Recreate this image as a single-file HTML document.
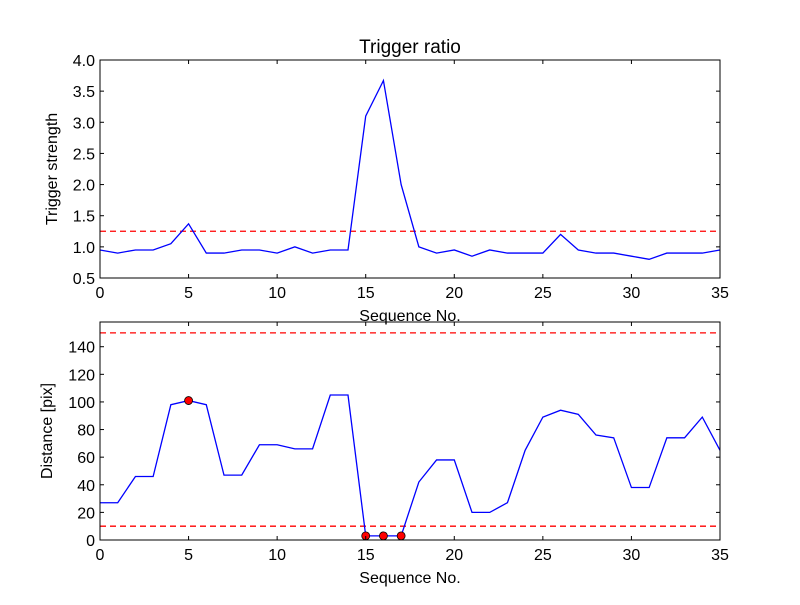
<!DOCTYPE html>
<html><head><meta charset="utf-8"><style>
body{margin:0;background:#fff;}
svg text{font-family:"Liberation Sans","DejaVu Sans",sans-serif;fill:#000;}
</style></head><body>
<svg id="chart" width="800" height="600" xmlns="http://www.w3.org/2000/svg"></svg>
<script>
const seq = Array.from({length:36},(_,i)=>i);
const triggerStrength = [0.95,0.9,0.95,0.95,1.05,1.37,0.9,0.9,0.95,0.95,0.9,1.0,0.9,0.95,0.95,3.1,3.67,2.0,1.0,0.9,0.95,0.85,0.95,0.9,0.9,0.9,1.2,0.95,0.9,0.9,0.85,0.8,0.9,0.9,0.9,0.95];
const triggerThreshold = [1.25];
const distance = [27,27,46,46,98,101,98,47,47,69,69,66,66,105,105,3,3,3,42,58,58,20,20,27,65,89,94,91,76,74,38,38,74,74,89,65];
const distThresholds = [150,10];
const flagged = [5,15,16,17];
const xTicks = [0,5,10,15,20,25,30,35];
const topYTicks = [0.5,1.0,1.5,2.0,2.5,3.0,3.5,4.0];
const botYTicks = [0,20,40,60,80,100,120,140];

const svg=document.getElementById('chart');
const NS='http://www.w3.org/2000/svg';
function mk(tag,attrs,parent){const e=document.createElementNS(NS,tag);for(const k in attrs)e.setAttribute(k,attrs[k]);(parent||svg).appendChild(e);return e;}
const L=100,R=720;
const xs=v=>L+(v-0)/(35-0)*(R-L);

function panel(name,top,bot,ymin,ymax,yticks,fmt,data,thr,ylabel,title,marks){
  const g=mk('g',{});
  
  
  const ys=v=>bot-(v-ymin)/(ymax-ymin)*(bot-top);
  thr.forEach(t=>{const l=mk('line',{x1:L,x2:R,y1:ys(t),y2:ys(t),stroke:'#ff0000','stroke-width':1.3,'stroke-dasharray':'6,4'},g);
    
    });
  const p=mk('polyline',{points:data.map((v,i)=>xs(seq[i])+','+ys(v)).join(' '),fill:'none',stroke:'#0000ff','stroke-width':1.3},g);
  
  
  marks.forEach(i=>{const c=mk('circle',{cx:xs(seq[i]),cy:ys(data[i]),r:4,fill:'#ff0000',stroke:'#000','stroke-width':0.8},g);
    
    });
  const f=mk('rect',{x:L,y:top,width:R-L,height:bot-top,fill:'none',stroke:'#000','stroke-width':1},g);
  
  
  xTicks.forEach(t=>{const x=xs(t);
    mk('line',{x1:x,x2:x,y1:bot,y2:bot-4,stroke:'#000'},g);mk('line',{x1:x,x2:x,y1:top,y2:top+4,stroke:'#000'},g);
    const tx=mk('text',{x:x,y:bot+20,'text-anchor':'middle','font-size':16},g);tx.textContent=t;
    
    });
  yticks.forEach(t=>{const y=ys(t);
    mk('line',{x1:L,x2:L+4,y1:y,y2:y,stroke:'#000'},g);mk('line',{x1:R,x2:R-4,y1:y,y2:y,stroke:'#000'},g);
    const tx=mk('text',{x:L-5,y:y+6,'text-anchor':'end','font-size':16},g);tx.textContent=fmt(t);
    
    });
  const xl=mk('text',{x:(L+R)/2,y:bot+43,'text-anchor':'middle','font-size':16},g);xl.textContent='Sequence No.';
  
  
  const yl=mk('text',{x:0,y:0,'text-anchor':'middle','font-size':16,transform:'translate('+(name==='top-panel'?57:52)+','+((top+bot)/2)+') rotate(-90)'},g);yl.textContent=ylabel;
  
  
  if(title){const tt=mk('text',{x:(L+R)/2,y:top-7,'text-anchor':'middle','font-size':19},g);tt.textContent=title;
    
    }
}
panel('top-panel',60,278,0.5,4.0,topYTicks,t=>t.toFixed(1),triggerStrength,triggerThreshold,'Trigger strength','Trigger ratio',[]);
panel('bottom-panel',322,540,0,157.9,botYTicks,t=>String(t),distance,distThresholds,'Distance [pix]',null,flagged);
</script>
</body></html>
